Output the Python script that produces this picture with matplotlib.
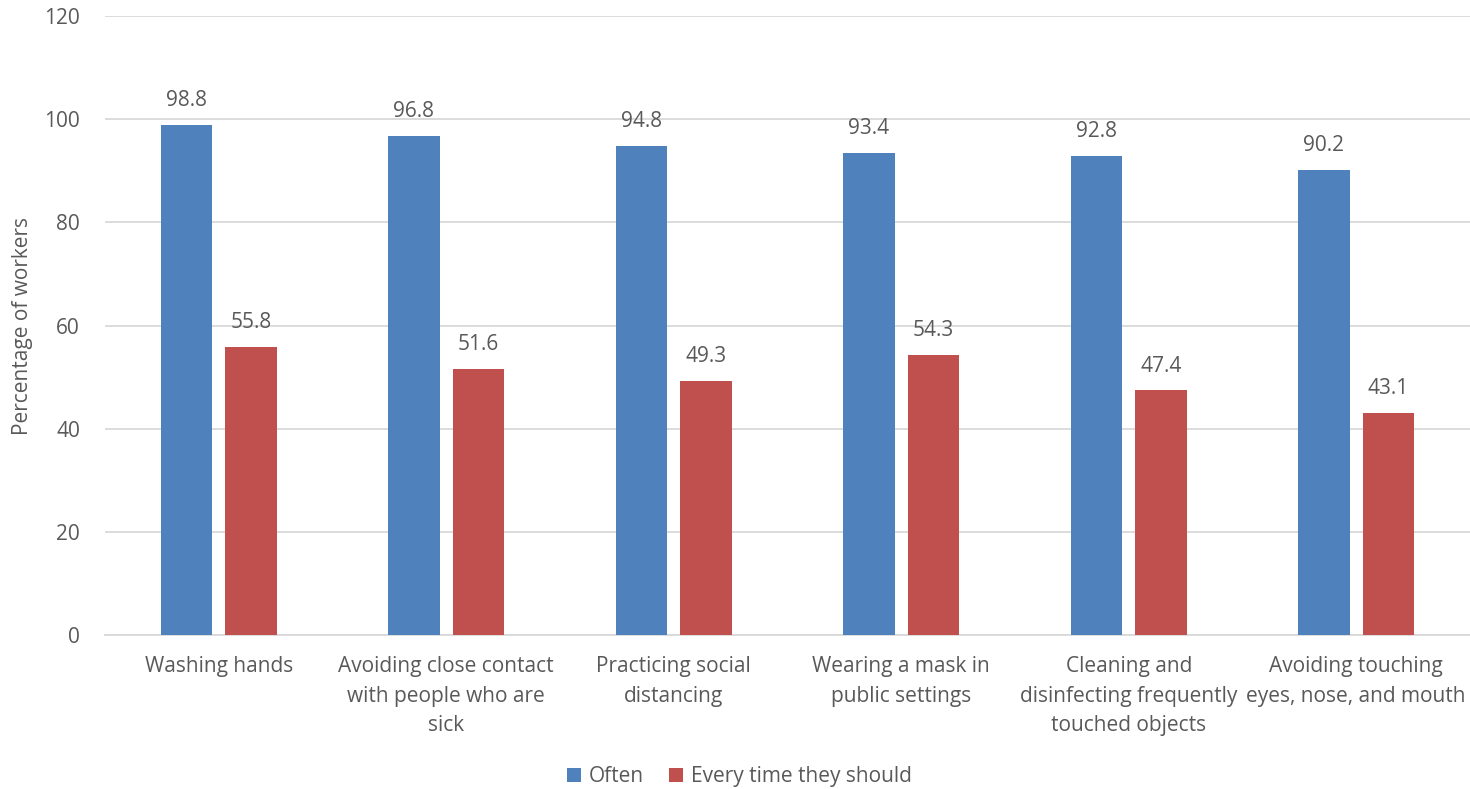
import matplotlib
matplotlib.use("Agg")
import matplotlib.pyplot as plt
import numpy as np

categories = [
    "Washing hands",
    "Avoiding close contact\nwith people who are\nsick",
    "Practicing social\ndistancing",
    "Wearing a mask in\npublic settings",
    "Cleaning and\ndisinfecting frequently\ntouched objects",
    "Avoiding touching\neyes, nose, and mouth",
]
often = [98.8, 96.8, 94.8, 93.4, 92.8, 90.2]
every_time = [55.8, 51.6, 49.3, 54.3, 47.4, 43.1]
series_names = ["Often", "Every time they should"]
y_ticks = [0, 20, 40, 60, 80, 100, 120]

plt.rcParams["font.family"] = ["Open Sans", "DejaVu Sans"]
text_color = "#595959"
blue = "#4F81BD"
red = "#C0504D"
fs = 15

fig = plt.figure(figsize=(14.7, 7.89), dpi=100)
ax = fig.add_axes([0.0714, 0.1952, 0.9286, 0.7845])

x = np.arange(len(categories))
w = 0.225
off = 0.142
b1 = ax.bar(x - off, often, w, color=blue, label=series_names[0], zorder=3)
b2 = ax.bar(x + off, every_time, w, color=red, label=series_names[1], zorder=3)

for bars, vals in ((b1, often), (b2, every_time)):
    for rect, v in zip(bars, vals):
        ax.annotate(f"{v:.1f}", (rect.get_x() + rect.get_width() / 2, v),
                    xytext=(0, 10), textcoords="offset points",
                    ha="center", va="bottom", fontsize=fs, color=text_color)

ax.set_xlim(-0.5, len(categories) - 0.5)
ax.set_ylim(0, 120)
ax.set_yticks(y_ticks)
ax.set_xticks(x)
ax.set_xticklabels(categories, fontsize=fs, color=text_color, linespacing=1.55)
ax.tick_params(axis="y", labelsize=fs, labelcolor=text_color, length=0, pad=18)
ax.tick_params(axis="x", length=0, pad=15)
ax.yaxis.grid(True, color="#D9D9D9", linewidth=1.3, zorder=0)
ax.set_axisbelow(True)
for s in ("top", "right", "left"):
    ax.spines[s].set_visible(False)
ax.spines["bottom"].set_color("#D9D9D9")
ax.spines["bottom"].set_linewidth(1.3)

ax.set_ylabel("Percentage of workers", fontsize=fs, color=text_color, labelpad=8)

fig.legend(handles=[b1, b2], labels=series_names, loc="center", bbox_to_anchor=(0.503, 0.016),
           ncol=2, frameon=False, fontsize=fs, labelcolor=text_color,
           handlelength=0.65, handleheight=0.65, handletextpad=0.4, columnspacing=1.2)

fig.savefig("out.png", dpi=100)
